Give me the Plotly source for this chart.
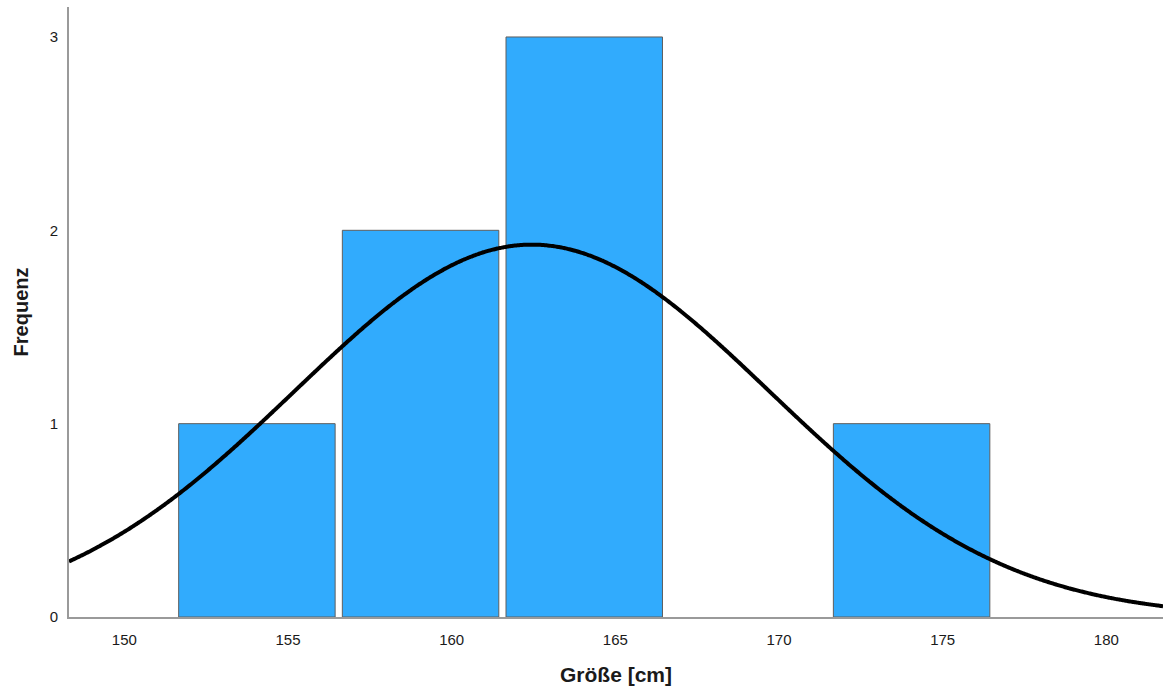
import numpy as np
import plotly.graph_objects as go

# Histogram bins (centres in cm) and their counts
bin_centers = [154.05, 159.05, 164.05, 174.05]
counts = [1, 2, 3, 1]
bar_width = 4.78
bin_size = 5.0

# Normal fit parameters of the sample
n_obs = 7
mean_cm = 162.45
sd_cm = 7.25

x_ticks = [150, 155, 160, 165, 170, 175, 180]
y_ticks = [0, 1, 2, 3]
x_range = [148.31, 181.73]
y_range = [0, 3.155]

# Normal curve scaled to frequency
xs = np.linspace(x_range[0], x_range[1], 600)
ys = n_obs * bin_size / (sd_cm * np.sqrt(2 * np.pi)) * np.exp(-0.5 * ((xs - mean_cm) / sd_cm) ** 2)

fig = go.Figure()
fig.add_trace(go.Bar(
    x=bin_centers, y=counts, width=bar_width,
    marker=dict(color="#31abfd", line=dict(color="#5e5e5e", width=1)),
    hoverinfo="skip",
))
fig.add_trace(go.Scatter(
    x=xs, y=ys, mode="lines",
    line=dict(color="#000000", width=4, simplify=False, shape="spline"),
    hoverinfo="skip",
))

font_family = "Liberation Sans, Arial, sans-serif"

fig.update_layout(
    width=1163, height=693,
    margin=dict(l=69, r=0, t=7, b=76),
    paper_bgcolor="white", plot_bgcolor="white",
    showlegend=False,
    font=dict(family=font_family, color="#1a1a1a"),
    xaxis=dict(
        range=x_range, tickvals=x_ticks, ticktext=[str(v) for v in x_ticks],
        showgrid=False, zeroline=False, showline=True, linecolor="#9a9a9a", linewidth=2,
        ticks="", tickfont=dict(size=15, family=font_family, color="#1a1a1a"),
        ticklabelstandoff=8,
    ),
    yaxis=dict(
        range=y_range, tickvals=y_ticks, ticktext=[str(v) for v in y_ticks],
        showgrid=False, zeroline=False, showline=True, linecolor="#9a9a9a", linewidth=2,
        ticks="", tickfont=dict(size=15, family=font_family, color="#1a1a1a"),
        ticklabelstandoff=6,
    ),
    annotations=[
        dict(text="<b>Größe [cm]</b>", x=0.5, xref="paper", y=-0.095, yref="paper",
             xanchor="center", yanchor="middle", showarrow=False,
             font=dict(size=21, family=font_family, color="#1a1a1a")),
        dict(text="<b>Frequenz</b>", x=-0.0435, xref="paper", y=0.5, yref="paper",
             xanchor="center", yanchor="middle", showarrow=False, textangle=-90,
             font=dict(size=20, family=font_family, color="#1a1a1a")),
    ],
)

fig.write_html("out.html")
